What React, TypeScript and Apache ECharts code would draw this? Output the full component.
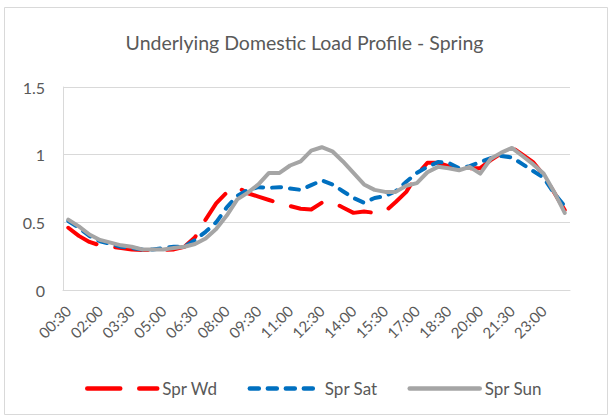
import React, { useEffect, useRef } from "react";
import * as echarts from "echarts";

const times: string[] = [];
for (let i = 1; i <= 48; i++) {
  const m = i * 30;
  const h = Math.floor(m / 60) % 24;
  const mm = m % 60;
  times.push(`${String(h).padStart(2, "0")}:${mm === 0 ? "00" : "30"}`);
}

const sprWd = [
  0.46, 0.4, 0.355, 0.33, 0.32, 0.31, 0.3, 0.295, 0.295, 0.295, 0.3, 0.32,
  0.39, 0.52, 0.64, 0.72, 0.76, 0.715, 0.69, 0.665, 0.64, 0.62, 0.6, 0.595,
  0.645, 0.65, 0.61, 0.57, 0.58, 0.57, 0.58, 0.65, 0.725, 0.85, 0.94, 0.94,
  0.915, 0.9, 0.9, 0.9, 0.96, 1.01, 1.055, 1.0, 0.945, 0.85, 0.72, 0.59,
];
const sprSat = [
  0.51, 0.46, 0.4, 0.36, 0.34, 0.32, 0.31, 0.3, 0.3, 0.31, 0.32, 0.32,
  0.37, 0.43, 0.5, 0.61, 0.695, 0.74, 0.76, 0.755, 0.76, 0.75, 0.74, 0.775,
  0.81, 0.78, 0.73, 0.68, 0.645, 0.68, 0.695, 0.73, 0.8, 0.865, 0.91, 0.945,
  0.94, 0.9, 0.915, 0.945, 0.975, 0.99, 0.98, 0.93, 0.88, 0.83, 0.715, 0.62,
];
const sprSun = [
  0.52, 0.47, 0.41, 0.37, 0.35, 0.33, 0.32, 0.3, 0.3, 0.3, 0.31, 0.32,
  0.34, 0.38, 0.45, 0.55, 0.67, 0.72, 0.78, 0.865, 0.865, 0.92, 0.95, 1.03,
  1.055, 1.025, 0.95, 0.865, 0.78, 0.74, 0.725, 0.725, 0.77, 0.79, 0.87, 0.91,
  0.9, 0.885, 0.91, 0.86, 0.97, 1.015, 1.05, 0.99, 0.93, 0.86, 0.725, 0.57,
];
const yTicks = [0, 0.5, 1, 1.5];

const FONT = "Lato";
const TXT = "#595959";
const GRID = "#d9d9d9";

export default function App() {
  const ref = useRef<HTMLDivElement>(null);
  useEffect(() => {
    if (!ref.current) return;
    const chart = echarts.init(ref.current, undefined, { renderer: "svg" });
    chart.setOption({
      animation: false,
      backgroundColor: "#ffffff",
      graphic: [
        {
          type: "rect",
          shape: { x: 4.5, y: 7.5, width: 603, height: 407 },
          style: { fill: "none", stroke: GRID, lineWidth: 1 },
          silent: true,
        },
      ],
      title: {
        text: "Underlying Domestic Load Profile - Spring",
        left: "center",
        top: 27,
        textStyle: { fontFamily: FONT, fontSize: 19.5, fontWeight: "normal", color: TXT },
      },
      legend: {
        left: 80,
        top: 375,
        itemWidth: 70,
        itemHeight: 18,
        itemGap: 30,
        itemStyle: { opacity: 0 },
        lineStyle: { width: 4.5, cap: "round" },
        textStyle: { fontFamily: FONT, fontSize: 17, color: TXT },
        data: ["Spr Wd", "Spr Sat", "Spr Sun"],
      },
      grid: { left: 63, right: 39, top: 87, bottom: 128, containLabel: false },
      xAxis: {
        type: "category",
        data: times,
        boundaryGap: true,
        axisLine: { show: true, lineStyle: { color: GRID, width: 1 } },
        axisTick: { show: false },
        axisLabel: {
          interval: 2,
          rotate: 45,
          margin: 18,
          fontFamily: FONT,
          fontSize: 15,
          color: TXT,
        },
      },
      yAxis: {
        type: "value",
        min: yTicks[0],
        max: yTicks[yTicks.length - 1],
        interval: 0.5,
        axisLine: { show: true, lineStyle: { color: GRID, width: 1 } },
        axisTick: { show: false },
        splitLine: { show: true, lineStyle: { color: GRID, width: 1 } },
        axisLabel: {
          margin: 18,
          fontFamily: FONT,
          fontSize: 16,
          color: TXT,
          formatter: (v: number) => String(v),
        },
      },
      series: [
        {
          name: "Spr Wd",
          type: "line",
          data: sprWd,
          symbol: "none",
          color: "#FF0000",
          lineStyle: { color: "#FF0000", width: 4, type: [33, 19], cap: "round", join: "round" },
        },
        {
          name: "Spr Sat",
          type: "line",
          data: sprSat,
          symbol: "none",
          color: "#0070C0",
          lineStyle: { color: "#0070C0", width: 4, type: [9, 9], cap: "round", join: "round" },
        },
        {
          name: "Spr Sun",
          type: "line",
          data: sprSun,
          symbol: "none",
          color: "#A5A5A5",
          lineStyle: { color: "#A5A5A5", width: 4, type: "solid", cap: "round", join: "round" },
        },
      ],
    });
    return () => chart.dispose();
  }, []);
  return (
    <div
      ref={ref}
      style={{ position: "absolute", left: 0, top: 0, width: 609, height: 418 }}
    />
  );
}
